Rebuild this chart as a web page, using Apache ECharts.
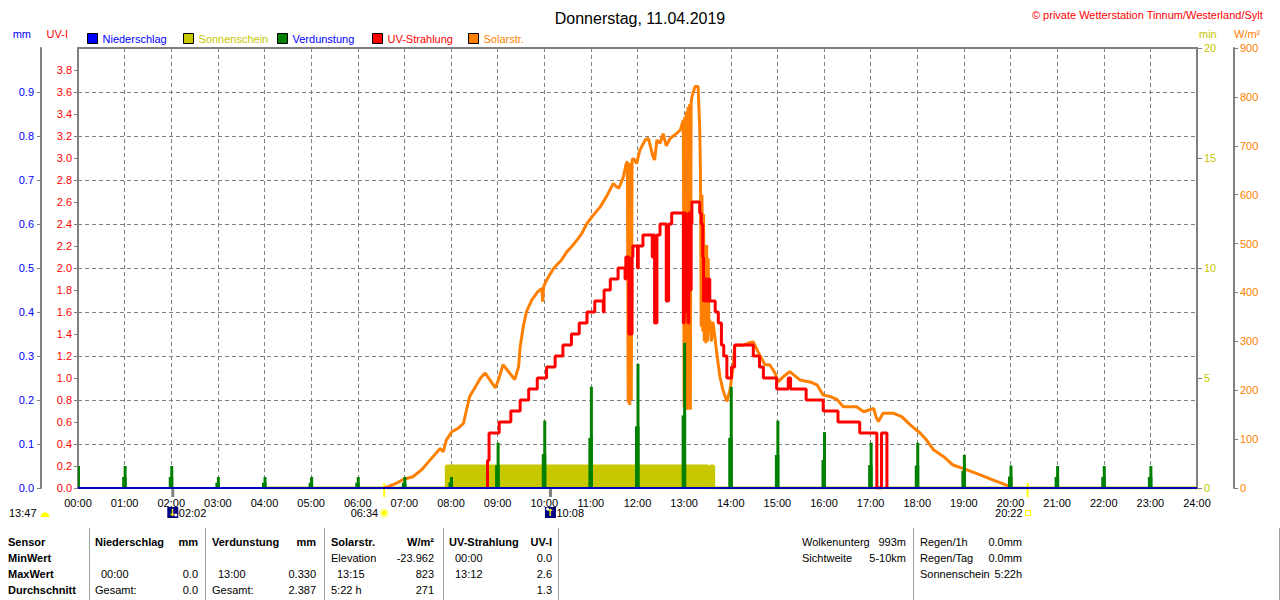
<!DOCTYPE html>
<html><head><meta charset="utf-8">
<script src="https://cdn.jsdelivr.net/npm/echarts@6/dist/echarts.min.js"></script>
<style>html,body{margin:0;padding:0;background:#fff}#c{width:1280px;height:600px}</style>
</head><body><div id="c"></div>
<script>
// ================= DATA =================
const chartTitle = 'Donnerstag, 11.04.2019';
const copyright = '\u00A9 private Wetterstation Tinnum/Westerland/Sylt';

// Niederschlag (mm)
const rainTimes = ['00:00', '24:00'];
const rainValues = [0, 0];

// Sonnenschein (min), value holds until next time
const sunTimes = ['04:00', '07:54', '13:31', '13:34', '13:38', '24:00'];
const sunValues = [0, 1, 0, 1, 0, 0];

// Verdunstung (mm), hourly
const evapHours = [0,1,2,3,4,5,6,7,8,9,10,11,12,13,14,15,16,17,18,19,20,21,22,23];
const evapPeak = [0.05,0.05,0.05,0.025,0.025,0.025,0.025,0.025,0.025,0.103,0.153,0.23,0.282,0.33,0.23,0.153,0.127,0.103,0.103,0.075,0.051,0.05,0.05,0.05];
const evapShoulder = [0.025,0.025,0.025,0.012,0.012,0.012,0.012,0.012,0.013,0.052,0.077,0.114,0.14,0.165,0.114,0.075,0.064,0.052,0.051,0.039,0.026,0.025,0.025,0.025];

// UV-Strahlung: [minute of day, UV-I], value holds until next point
const uvSteps = [[526,0],[527,0.25],[529,0.5],[542,0.6],[557,0.7],[569,0.8],[580,0.9],[591,1.0],[603,1.1],[614,1.2],[624,1.3],[635,1.4],[645,1.5],[655,1.6],[665,1.7],[676,1.6],[677,1.8],[685,1.9],[695,2.0],[704,1.9],[705,2.1],[709,1.4],[713,2.1],[714,2.2],[720,2.0],[721,2.2],[727,2.3],[739,2.1],[740,2.3],[742,1.5],[745,2.3],[749,2.4],[757,1.7],[760,2.4],[764,2.5],[779,1.5],[780,2.5],[782,1.6],[783,2.4],[785,1.5],[786,2.5],[788,1.8],[789,2.4],[790,2.6],[800,2.5],[802,2.4],[804,2.1],[805,1.7],[806,1.9],[807,1.7],[808,1.9],[810,1.7],[812,1.9],[813,1.7],[820,1.6],[824,1.5],[828,1.3],[831,1.2],[835,1.0],[841,1.1],[845,1.3],[869,1.2],[877,1.1],[882,1.0],[899,0.9],[914,1.0],[917,0.9],[937,0.8],[959,0.7],[978,0.6],[1006,0.5],[1028,0],[1034,0.5],[1041,0]];

// Solarstrahlung: [minute of day, W/m²]
const solarPoints = [[394,0],[399,3],[410,10],[419,18],[431,23],[442,37],[453,57],[466,81],[470,74],[474,98],[481,115],[489,122],[496,132],[500,160],[504,187],[513,211],[518,225],[524,235],[530,221],[537,205],[541,221],[547,252],[554,238],[562,222],[567,248],[569,289],[573,330],[577,360],[584,385],[592,402],[597,408],[598,381],[599,410],[601,419],[607,436],[612,449],[616,456],[622,466],[629,483],[636,495],[642,507],[648,520],[655,541],[663,558],[672,575],[680,596],[689,623],[693,616],[696,613],[702,637],[705,661],[707,668],[708,175],[709,660],[710,170],[711,665],[712,180],[713,671],[715,674],[719,664],[723,691],[730,712],[734,715],[738,690],[740,678],[742,671],[745,712],[749,705],[753,725],[757,700],[762,715],[766,720],[770,725],[775,732],[779,753],[780,165],[781,760],[782,300],[783,770],[784,160],[785,780],[786,175],[787,785],[788,160],[789,787],[790,800],[794,821],[798,821],[800,739],[801,650],[802,330],[803,600],[804,320],[805,560],[806,300],[807,480],[808,296],[809,497],[810,300],[811,470],[812,320],[813,344],[815,300],[817,340],[820,303],[822,276],[826,228],[830,200],[835,177],[839,200],[843,248],[845,289],[848,292],[856,292],[862,296],[869,299],[875,279],[884,252],[890,252],[897,235],[901,217],[908,228],[916,238],[929,221],[942,217],[951,211],[959,190],[968,187],[976,182],[985,166],[1002,166],[1011,156],[1019,160],[1024,163],[1027,145],[1030,136],[1036,153],[1049,153],[1060,146],[1071,129],[1084,112],[1092,98],[1101,78],[1114,64],[1126,47],[1144,37],[1161,27],[1178,16],[1195,6],[1199,0]];

// Astronomical events below the time axis
const eventTimes = ['02:02', '06:34', '10:08', '20:22'];
const eventKinds = ['moonset', 'sunrise', 'moonrise', 'sunset'];
const dayLength = '13:47';

// Legend
const legendNames = ['Niederschlag', 'Sonnenschein', 'Verdunstung', 'UV-Strahlung', 'Solarstr.'];

// Table below chart
const tableRows = [
  ['Sensor', 'Niederschlag', 'mm', 'Verdunstung', 'mm', 'Solarstr.', 'W/m\u00B2', 'UV-Strahlung', 'UV-I'],
  ['MinWert', '', '', '', '', 'Elevation', '-23.962', '00:00', '0.0'],
  ['MaxWert', '00:00', '0.0', '13:00', '0.330', '13:15', '823', '13:12', '2.6'],
  ['Durchschnitt', 'Gesamt:', '0.0', 'Gesamt:', '2.387', '5:22 h', '271', '', '1.3']
];
const infoLeft = [['Wolkenunterg', '993m'], ['Sichtweite', '5-10km']];
const infoRight = [['Regen/1h', '0.0mm'], ['Regen/Tag', '0.0mm'], ['Sonnenschein', '5:22h']];

// ================= HELPERS / STYLE =================
const FONT = '"Liberation Sans", Arial, sans-serif';
const C = { rain: '#0000ff', sun: '#c8c800', evap: '#008000', uv: '#ff0000', solar: '#ff8000', grid: '#808080' };
function toMin(s) { const p = s.split(':'); return (+p[0]) * 60 + (+p[1]); }
function pad2(n) { return (n < 10 ? '0' : '') + n; }

const rainData = rainTimes.map((t, i) => [toMin(t), rainValues[i]]);
const sunData = sunTimes.map((t, i) => [toMin(t), sunValues[i]]);
const evapData = evapHours.map((h, i) => [h * 60, evapPeak[i], evapShoulder[i]]);

const chart = echarts.init(document.getElementById('c'), null, { renderer: 'svg' });

const legendColors = { 'Niederschlag': C.rain, 'Sonnenschein': C.sun, 'Verdunstung': '#0000ff', 'UV-Strahlung': C.uv, 'Solarstr.': C.solar };
const legendLeft = [87, 183, 277, 372, 468];

const option = {
  animation: false,
  textStyle: { fontFamily: FONT },
  title: [
    { text: chartTitle, left: 'center', top: 5, textStyle: { fontFamily: FONT, fontSize: 16, fontWeight: 'normal', color: '#000' } },
    { text: copyright, right: 12, top: 4, textStyle: { fontFamily: FONT, fontSize: 11, fontWeight: 'normal', color: '#ff0000' } }
  ],
  legend: legendNames.map((n, i) => ({
    data: [{ name: n }],
    left: legendLeft[i], top: 33, padding: 0,
    icon: 'rect', itemWidth: 10, itemHeight: 10,
    itemStyle: { borderColor: '#000', borderWidth: 1 },
    lineStyle: { opacity: 0 },
    selectedMode: false,
    textStyle: { fontFamily: FONT, fontSize: 11, color: legendColors[n], padding: [0, 0, 0, 0] }
  })),
  grid: { left: 78, right: 83, top: 48, bottom: 112, show: true, borderColor: C.grid, borderWidth: 2, containLabel: false },
  xAxis: {
    type: 'value', min: 0, max: 1440, interval: 60,
    axisLine: { show: false }, axisTick: { show: false },
    axisLabel: { color: '#000', fontSize: 11, margin: 9, fontFamily: FONT, formatter: v => pad2(v / 60) + ':00' },
    splitLine: { show: true, lineStyle: { color: C.grid, type: [4, 3], width: 1 } }
  },
  yAxis: [
    { type: 'value', position: 'left', offset: 0, min: 0, max: 4, interval: 0.2,
      name: 'UV-I', nameLocation: 'end', nameGap: 9,
      nameTextStyle: { color: C.uv, fontSize: 11, align: 'right', padding: [0, 10, 0, 0], fontFamily: FONT },
      axisLine: { show: false }, axisTick: { show: true, length: 4, lineStyle: { color: C.grid } },
      axisLabel: { color: C.uv, fontSize: 11, margin: 6, showMaxLabel: false, fontFamily: FONT, formatter: v => v.toFixed(1) },
      splitLine: { show: false } },
    { type: 'value', position: 'left', offset: 37, min: 0, max: 1, interval: 0.1,
      name: 'mm', nameLocation: 'end', nameGap: 9,
      nameTextStyle: { color: C.rain, fontSize: 11, align: 'right', padding: [0, 10, 0, 0], fontFamily: FONT },
      axisLine: { show: true, lineStyle: { color: C.grid, width: 2 } }, axisTick: { show: true, length: 4, lineStyle: { color: C.grid } },
      axisLabel: { color: C.rain, fontSize: 11, margin: 7, showMaxLabel: false, fontFamily: FONT, formatter: v => v.toFixed(1) },
      splitLine: { show: true, lineStyle: { color: C.grid, type: [4, 3], width: 1 } } },
    { type: 'value', position: 'right', offset: 0, min: 0, max: 20, interval: 5,
      name: 'min', nameLocation: 'end', nameGap: 9,
      nameTextStyle: { color: C.sun, fontSize: 11, align: 'left', padding: [0, 0, 0, 2], fontFamily: FONT },
      axisLine: { show: false }, axisTick: { show: true, length: 5, lineStyle: { color: C.grid } },
      axisLabel: { color: C.sun, fontSize: 11, margin: 7, fontFamily: FONT },
      splitLine: { show: false } },
    { type: 'value', position: 'right', offset: 37, min: 0, max: 900, interval: 100,
      name: 'W/m\u00B2', nameLocation: 'end', nameGap: 9,
      nameTextStyle: { color: C.solar, fontSize: 11, align: 'left', padding: [0, 0, 0, 0], fontFamily: FONT },
      axisLine: { show: true, lineStyle: { color: C.grid, width: 2 } }, axisTick: { show: true, length: 4, lineStyle: { color: C.grid } },
      axisLabel: { color: C.solar, fontSize: 11, margin: 6, fontFamily: FONT },
      splitLine: { show: false } }
  ],
  series: [
    { name: 'Sonnenschein', type: 'line', yAxisIndex: 2, step: 'end', symbol: 'none', data: sunData,
      lineStyle: { color: C.sun, width: 3 }, itemStyle: { color: C.sun }, areaStyle: { color: C.sun, opacity: 1 }, z: 1 },
    { name: 'Solarstr.', type: 'line', yAxisIndex: 3, symbol: 'none', data: solarPoints,
      lineStyle: { color: C.solar, width: 3 }, itemStyle: { color: C.solar }, z: 2 },
    { name: 'Verdunstung', type: 'custom', yAxisIndex: 1, data: evapData, clip: true,
      encode: { x: 0, y: 1 }, itemStyle: { color: C.evap }, z: 3,
      renderItem: function (params, api) {
        const t = api.value(0);
        const base = api.coord([t, 0]);
        const top = api.coord([t, api.value(1)]);
        const sh = api.coord([t, api.value(2)]);
        return { type: 'group', children: [
          { type: 'rect', shape: { x: base[0] - 2.5, y: sh[1], width: 4.5, height: base[1] - sh[1] }, style: { fill: C.evap } },
          { type: 'rect', shape: { x: base[0] - 1, y: top[1], width: 3, height: base[1] - top[1] }, style: { fill: C.evap } }
        ] };
      } },
    { name: 'UV-Strahlung', type: 'line', yAxisIndex: 0, step: 'end', symbol: 'none', data: uvSteps,
      lineStyle: { color: C.uv, width: 3 }, itemStyle: { color: C.uv }, z: 4 },
    { name: 'Niederschlag', type: 'line', yAxisIndex: 1, symbol: 'none', data: rainData,
      lineStyle: { color: '#0000c0', width: 2 }, itemStyle: { color: C.rain }, z: 5 }
  ]
};
chart.setOption(option);

// ---------- annotations & table (graphic) ----------
const g = [];
function px(min) { return chart.convertToPixel({ xAxisIndex: 0, yAxisIndex: 0 }, [min, 0])[0]; }
const baseY = chart.convertToPixel({ xAxisIndex: 0, yAxisIndex: 0 }, [0, 0])[1];
const txt = (text, x, y, align, extra) => Object.assign({ type: 'text', x: x, y: y, silent: true,
  style: Object.assign({ text: text, fill: '#000', font: '11px ' + FONT, align: align || 'left', verticalAlign: 'middle' }, extra || {}) });

// day length with sun symbol
g.push(txt(dayLength, 9, 513));
g.push({ type: 'sector', silent: true, shape: { cx: 45, cy: 517, r: 4.5, startAngle: Math.PI, endAngle: 2 * Math.PI }, style: { fill: '#ffff00' } });

eventTimes.forEach((t, i) => {
  const x = px(toMin(t));
  const kind = eventKinds[i];
  if (kind === 'moonset' || kind === 'moonrise') {
    g.push({ type: 'line', silent: true, shape: { x1: x, y1: baseY, x2: x, y2: baseY + 9 }, style: { stroke: C.grid, lineWidth: 3 } });
    g.push({ type: 'rect', silent: true, shape: { x: x - 5.5, y: 507, width: 11, height: 11 }, style: { fill: '#000080' } });
    g.push(txt(kind === 'moonset' ? '\u2193' : '\u2191', x - 0.5, 512.5, 'center', { fill: '#ffff00', font: 'bold 10px "DejaVu Sans", sans-serif' }));
    g.push({ type: 'circle', silent: true, shape: { cx: kind === 'moonset' ? x + 3 : x - 3, cy: kind === 'moonset' ? 515 : 509, r: 1.5 }, style: { fill: '#ffffff' } });
    g.push(txt(t, x + 6, 513, 'left'));
  } else {
    g.push({ type: 'line', silent: true, shape: { x1: x, y1: baseY - 5, x2: x, y2: baseY + 9 }, style: { stroke: '#ffff00', lineWidth: 2 } });
    if (kind === 'sunrise') {
      g.push({ type: 'circle', silent: true, shape: { cx: x, cy: 513, r: 3.5 }, style: { fill: '#ffff00', stroke: '#ffff99', lineWidth: 2 } });
      g.push(txt(t, x - 6, 513, 'right'));
    } else {
      g.push({ type: 'rect', silent: true, shape: { x: x - 2, y: 510.5, width: 5, height: 5 }, style: { fill: 'none', stroke: '#ffff00', lineWidth: 1.2 } });
      g.push(txt(t, x - 5, 513, 'right'));
    }
  }
});

// table
const rowY = [542, 558, 574, 590];
const colLeft = [8, 95, null, 212, null, 331, null, 449, null];
const colRight = [null, null, 198, null, 316, null, 434, null, 552];
tableRows.forEach((row, r) => {
  row.forEach((cell, c) => {
    if (!cell) return;
    const bold = (r === 0 || c === 0);
    const font = (bold ? 'bold ' : '') + '11px ' + FONT;
    if (colLeft[c] !== null) {
      const indent = /^\d\d:\d\d$/.test(cell) ? 6 : 0;
      g.push(txt(cell, colLeft[c] + indent, rowY[r], 'left', { font: font }));
    } else {
      g.push(txt(cell, colRight[c], rowY[r], 'right', { font: font }));
    }
  });
});
[89, 205, 324, 443, 558, 913, 1279].forEach(x => {
  g.push({ type: 'line', silent: true, shape: { x1: x + 0.5, y1: 528, x2: x + 0.5, y2: 600 }, style: { stroke: '#a0a0a0', lineWidth: 1 } });
});
infoLeft.forEach((p, i) => { g.push(txt(p[0], 802, rowY[i], 'left')); g.push(txt(p[1], 906, rowY[i], 'right')); });
infoRight.forEach((p, i) => { g.push(txt(p[0], 920, rowY[i], 'left')); g.push(txt(p[1], 1022, rowY[i], 'right')); });

chart.setOption({ graphic: { elements: g } });
</script>
</body></html>
